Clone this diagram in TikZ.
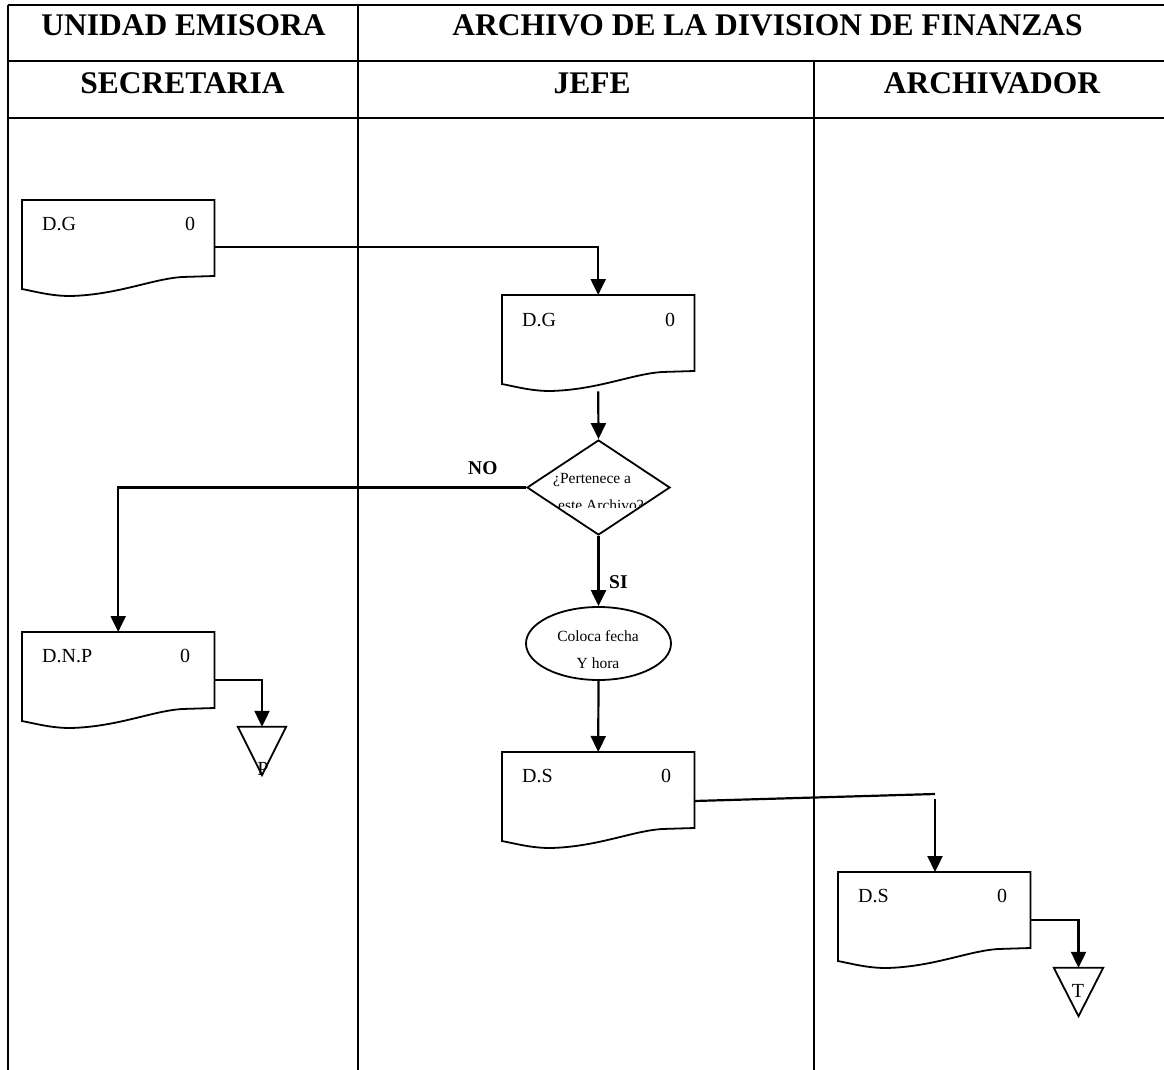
\documentclass[tikz,border=0pt]{standalone}
\usepackage{fontspec}
\setmainfont{Liberation Serif}
\usetikzlibrary{arrows.meta,shapes.geometric}

\begin{document}
\begin{tikzpicture}[x=1pt,y=-1pt,
  grid/.style={line width=2.8pt},
  head/.style={font=\fontsize{31.5}{36}\selectfont\bfseries, inner sep=0pt, anchor=base},
  docbox/.style={rectangle, minimum width=192pt, minimum height=96pt, inner sep=0pt, anchor=north west},
  endbox/.style={rectangle, minimum width=48pt, minimum height=48pt, inner sep=0pt},
  outline/.style={line width=1.8pt, line join=miter},
  doctext/.style={font=\fontsize{20}{24}\selectfont, inner sep=0pt, anchor=base west},
  small/.style={font=\fontsize{15.5}{18}\selectfont, inner sep=0pt},
  tag/.style={font=\fontsize{19.5}{22}\selectfont\bfseries, inner sep=0pt, anchor=base west},
  conn/.style={line width=2.2pt},
  arr/.style={conn, -{Triangle[length=16pt,width=15pt]}}
]
\useasboundingbox (0,0) rectangle (1164,1070);

% swimlane grid
\draw[grid] (8,5) -- (1164,5);
\draw[grid] (8,61) -- (1164,61);
\draw[grid] (8,118) -- (1164,118);
\draw[grid] (8,5) -- (8,1070);
\draw[grid] (358,5) -- (358,1070);
\draw[grid] (814,61) -- (814,1070);

% lane headings
\node[head] (h1) at (183.5,36) {UNIDAD EMISORA};
\node[head] (h2) at (767.5,36) {ARCHIVO DE LA DIVISION DE FINANZAS};
\node[head] (h3) at (182.5,94) {SECRETARIA};
\node[head] (h4) at (592,94) {JEFE};
\node[head] (h5) at (992,94) {ARCHIVADOR};

% documents
\node[docbox] (d1) at (22,200) {};
\node[docbox] (d2) at (502,295) {};
\node[docbox] (d3) at (22,632) {};
\node[docbox] (d4) at (502,752) {};
\node[docbox] (d5) at (838,872) {};
\foreach \d in {d1,d2,d3,d4,d5}
  \draw[outline] (\d.north west) -- (\d.north east)
    -- ([shift={(0,76)}]\d.north east)
    -- ([shift={(160,77)}]\d.north west)
    .. controls ([shift={(130,79)}]\d.north west) and ([shift={(95,95)}]\d.north west) .. ([shift={(48,96)}]\d.north west)
    .. controls ([shift={(30,96)}]\d.north west) and ([shift={(15,92)}]\d.north west) .. ([shift={(0,89)}]\d.north west)
    -- cycle;

\node[doctext] (d1a) at ([shift={(20,30)}]d1.north west) {D.G};
\node[doctext] (d1b) at ([shift={(163,30)}]d1.north west) {0};
\node[doctext] (d2a) at ([shift={(20,31)}]d2.north west) {D.G};
\node[doctext] (d2b) at ([shift={(163,31)}]d2.north west) {0};
\node[doctext] (d3a) at ([shift={(20,30)}]d3.north west) {D.N.P};
\node[doctext] (d3b) at ([shift={(158,30)}]d3.north west) {0};
\node[doctext] (d4a) at ([shift={(20,30)}]d4.north west) {D.S};
\node[doctext] (d4b) at ([shift={(159,30)}]d4.north west) {0};
\node[doctext] (d5a) at ([shift={(20,30)}]d5.north west) {D.S};
\node[doctext] (d5b) at ([shift={(159,30)}]d5.north west) {0};

% decision
\node[diamond, draw, line width=1.8pt, inner sep=0pt, minimum width=143pt, minimum height=95pt] (q) at (598.5,487.5) {};
\begin{scope}
  \clip (540,462) rectangle (662,507);
  \node[small, anchor=base west] (q1) at (553,483) {¿Pertenece a};
  \node[small, anchor=base west] (q2) at (558,510) {este Archivo?};
\end{scope}

% process step
\node[ellipse, draw, line width=1.8pt, inner sep=0pt, minimum width=145pt, minimum height=73pt] (e) at (598.5,643.5) {};
\node[small, anchor=base] (e1) at (598,641) {Coloca fecha};
\node[small, anchor=base] (e2) at (598,668) {Y hora};

% terminal archives
\node[endbox] (tP) at (262,751) {};
\draw[outline] (tP.north west) -- (tP.north east) -- (tP.south) -- cycle;
\node[doctext, anchor=base] (tPl) at (263,775) {P};
\node[endbox, minimum width=49pt] (tT) at (1078.5,992) {};
\draw[outline] (tT.north west) -- (tT.north east) -- (tT.south) -- cycle;
\node[doctext, anchor=base] (tTl) at (1078,997) {T};

% flow
\draw[arr] ([shift={(0,47)}]d1.north east) -| (d2.north);
\draw[arr] (d2.south) -- (q.north);
\draw[arr] (q.west) -| (d3.north);
\node[tag] (no) at (468,474) {NO};
\draw[arr] (q.south) -- (e.north);
\node[tag] (si) at (609,588) {SI};
\draw[arr] (e.south) -- (d4.north);
\draw[arr] ([shift={(0,48)}]d3.north east) -| (tP.north);
\coordinate (turn) at (935,794);
\coordinate (drop) at (935,799);
\draw[conn] ([shift={(0,49)}]d4.north east) -- (turn);
\draw[arr] (drop) -- (d5.north -| drop);
\draw[arr] ([shift={(0,48)}]d5.north east) -| (tT.north);
\end{tikzpicture}
\end{document}
